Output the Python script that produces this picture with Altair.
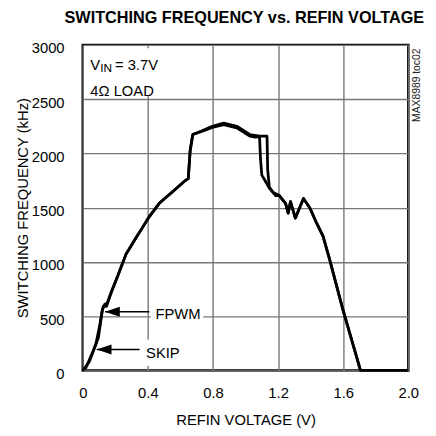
import altair as alt
import pandas as pd

# ---- data ----
fpwm_v = [0.016, 0.056, 0.096, 0.116, 0.126, 0.146, 0.176, 0.216, 0.266, 0.33, 0.36, 0.41,
          0.47, 0.55, 0.63, 0.648, 0.66, 0.676, 0.726, 0.796, 0.866, 0.946, 1.026, 1.086,
          1.132, 1.136, 1.146, 1.17, 1.206, 1.246, 1.262, 1.276, 1.306, 1.356, 1.396, 1.436,
          1.476, 1.516, 1.596, 1.706, 2.0]
fpwm_f = [15, 150, 302, 513, 590, 590, 725, 875, 1072, 1230, 1300, 1420,
          1540, 1645, 1750, 1767, 2030, 2174, 2204, 2250, 2280, 2250, 2174, 2159,
          2159, 1850, 1690, 1640, 1615, 1540, 1450, 1555, 1404, 1585, 1495, 1359,
          1238, 1026, 573, 0, 0]

skip_v = [0.0, 0.04, 0.08, 0.105, 0.12, 0.135, 0.15, 0.17, 0.216, 0.266, 0.33, 0.36, 0.41,
          0.47, 0.55, 0.63, 0.648, 0.66, 0.676, 0.726, 0.796, 0.866, 0.946, 1.026, 1.06,
          1.086, 1.092, 1.10, 1.116, 1.146, 1.186, 1.206, 1.246, 1.262, 1.276, 1.306, 1.356,
          1.396, 1.436, 1.476, 1.516, 1.596, 1.706]
skip_f = [0, 80, 240, 420, 560, 610, 620, 700, 875, 1072, 1230, 1300, 1420,
          1540, 1645, 1750, 1767, 2030, 2174, 2200, 2240, 2265, 2235, 2160, 2150,
          2155, 1950, 1800, 1760, 1680, 1610, 1612, 1540, 1450, 1555, 1404, 1585,
          1495, 1359, 1238, 1026, 573, 0]

x_ticks = [0, 0.4, 0.8, 1.2, 1.6, 2.0]
y_ticks = [0, 500, 1000, 1500, 2000, 2500, 3000]

title_text = "SWITCHING FREQUENCY vs. REFIN VOLTAGE"
x_title = "REFIN VOLTAGE (V)"
y_title = "SWITCHING FREQUENCY (kHz)"
tag_text = "MAX8989 toc02"

FONT = "Liberation Sans, Arial, Helvetica, sans-serif"
FS = 15
W, H = 331, 331

curves = pd.concat([
    pd.DataFrame({"v": fpwm_v, "f": fpwm_f, "s": "FPWM", "i": range(len(fpwm_v))}),
    pd.DataFrame({"v": skip_v, "f": skip_f, "s": "SKIP", "i": range(len(skip_v))}),
])

xs = alt.Scale(domain=[0, 2.0], nice=False, zero=False)
ys = alt.Scale(domain=[0, 3000], nice=False)

x_axis = alt.Axis(values=x_ticks, title=x_title, grid=True, ticks=False, domain=False,
                  labelFlush=False, labelPadding=15,
                  labelExpr="datum.value == 0 ? '0' : format(datum.value, '.1f')",
                  titleY=55, titleBaseline="alphabetic")
y_axis = alt.Axis(values=y_ticks, title=y_title, grid=True, ticks=False, domain=False,
                  format="d", labelPadding=19, labelOffset=3,
                  titleX=-56, titleBaseline="alphabetic")

boxes = pd.DataFrame({
    "v1": [0.01, 0.418, 0.375],
    "v2": [0.42, 0.74, 0.59],
    "f1": [2530, 420, 42],
    "f2": [2970, 650, 284],
})
box_layer = alt.Chart(boxes).mark_rect(color="white").encode(
    x=alt.X("v1:Q", scale=xs, axis=x_axis), x2="v2:Q",
    y=alt.Y("f1:Q", scale=ys, axis=y_axis), y2="f2:Q",
)

line_layer = alt.Chart(curves).mark_line(color="black", strokeWidth=2.8,
                                         strokeJoin="round").encode(
    x=alt.X("v:Q", scale=xs), y=alt.Y("f:Q", scale=ys), detail="s:N", order="i:Q"
)

arrows = pd.DataFrame({
    "tip": [0.137, 0.086],
    "tail": [0.409, 0.349],
    "f": [541, 193],
})
shaft_layer = alt.Chart(arrows).mark_rule(color="black", strokeWidth=1.5).encode(
    x=alt.X("tip:Q", scale=xs), x2="tail:Q", y=alt.Y("f:Q", scale=ys)
)
head_layer = alt.Chart(arrows).mark_point(
    shape="M0,0L3,-1L3,1Z", filled=True, color="black", opacity=1, size=100, strokeWidth=0
).encode(x=alt.X("tip:Q", scale=xs), y=alt.Y("f:Q", scale=ys))

labels = pd.DataFrame({
    "v": [0.447, 0.389],
    "f": [475, 112],
    "t": ["FPWM", "SKIP"],
})
label_layer = alt.Chart(labels).mark_text(
    align="left", baseline="alphabetic", font=FONT, fontSize=FS, color="black"
).encode(x=alt.X("v:Q", scale=xs), y=alt.Y("f:Q", scale=ys), text="t:N")

cond = pd.DataFrame({"v": [0.0465], "f1": [2770], "f2": [2530]})
v_layer = alt.Chart(cond).mark_text(align="left", baseline="alphabetic", font=FONT,
                                    fontSize=FS, color="black", text="V").encode(
    x=alt.X("v:Q", scale=xs), y=alt.Y("f1:Q", scale=ys))
in_layer = alt.Chart(cond).mark_text(align="left", baseline="alphabetic", font=FONT,
                                     fontSize=12, color="black", text="IN", dx=10, dy=2).encode(
    x=alt.X("v:Q", scale=xs), y=alt.Y("f1:Q", scale=ys))
eq_layer = alt.Chart(cond).mark_text(align="left", baseline="alphabetic", font=FONT,
                                     fontSize=FS, color="black", text="= 3.7V", dx=25).encode(
    x=alt.X("v:Q", scale=xs), y=alt.Y("f1:Q", scale=ys))
load_layer = alt.Chart(cond).mark_text(align="left", baseline="alphabetic", font=FONT,
                                       fontSize=FS, color="black", text="4Ω LOAD").encode(
    x=alt.X("v:Q", scale=xs), y=alt.Y("f2:Q", scale=ys))

tag_layer = alt.Chart(pd.DataFrame({"t": [tag_text]})).mark_text(
    angle=270, align="center", baseline="middle", font=FONT, fontSize=10.5, color="#222"
).encode(x=alt.value(W + 9), y=alt.value(41), text="t:N")

chart = alt.layer(
    box_layer, line_layer, shaft_layer, head_layer, label_layer,
    v_layer, in_layer, eq_layer, load_layer, tag_layer
).properties(
    width=W, height=H,
    title=alt.TitleParams(title_text, anchor="end", frame="group", dx=16, offset=15,
                          font=FONT, fontSize=16.5, fontWeight="bold", color="black"),
    autosize=alt.AutoSizeParams(type="none"),
    padding={"left": 76, "top": 34, "right": 20, "bottom": 55},
).configure_view(
    stroke="black", strokeWidth=2.5
).configure_axis(
    gridColor="#777777", gridWidth=1.4, gridOpacity=1,
    labelFont=FONT, labelFontSize=FS, labelColor="black",
    titleFont=FONT, titleFontSize=FS, titleColor="black", titleFontWeight="normal",
)

chart.save("out.html", embed_options={"renderer": "svg", "actions": False})
